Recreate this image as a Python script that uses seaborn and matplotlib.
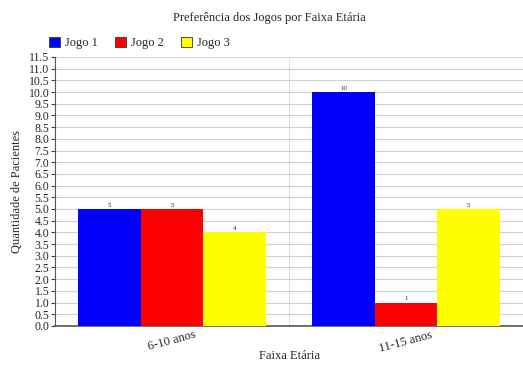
import numpy as np
import pandas as pd
import matplotlib.pyplot as plt
import seaborn as sns

faixas = ['6-10 anos', '11-15 anos']
jogos = ['Jogo 1', 'Jogo 2', 'Jogo 3']
jogo1 = [5, 10]
jogo2 = [5, 1]
jogo3 = [4, 5]
cores = ['#0000ff', '#ff0000', '#ffff00']

df = pd.DataFrame({
    'Faixa': faixas * 3,
    'Jogo': [j for j in jogos for _ in faixas],
    'Qtd': jogo1 + jogo2 + jogo3,
})

sns.set_style('white')
plt.rcParams['font.family'] = ['Liberation Serif', 'DejaVu Serif']

fig = plt.figure(figsize=(5.23, 3.65), dpi=100)
ax = fig.add_axes([0.105, 0.107, 0.895, 0.737])

sns.barplot(data=df, x='Faixa', y='Qtd', hue='Jogo', palette=cores,
            width=0.8, saturation=1, ax=ax, legend=False, zorder=3, linewidth=0)

ax.set_ylim(0, 11.5)
ax.set_xlim(-0.5, 1.5)
ax.set_yticks(np.arange(0, 11.51, 0.5))
ax.set_yticklabels([f'{v:.1f}' for v in np.arange(0, 11.51, 0.5)], fontsize=8.5)
ax.yaxis.grid(True, color='#d0d0d0', linewidth=0.8, zorder=0)
ax.axvline(0.5, color='#e0e0e0', linewidth=0.8, zorder=0)
ax.tick_params(axis='y', length=3, pad=1, left=True, color='#444444')
ax.tick_params(axis='x', length=0, pad=2)
for lbl in ax.get_xticklabels():
    lbl.set_rotation(15)
    lbl.set_fontsize(9)

for s in ['top', 'right']:
    ax.spines[s].set_visible(False)
ax.spines['left'].set_color('#555555')
ax.spines['bottom'].set_color('#555555')
ax.spines['bottom'].set_linewidth(1.2)

for cont in ax.containers:
    ax.bar_label(cont, fmt='%d', fontsize=5, padding=1,
                 bbox=dict(facecolor='white', edgecolor='none', pad=0.5))

ax.set_ylabel('Quantidade de Pacientes', fontsize=9, labelpad=4)
ax.set_xlabel('')
fig.text(0.553, 0.008, 'Faixa Etária', ha='center', va='bottom', fontsize=9)

fig.text(0.516, 0.95, 'Preferência dos Jogos por Faixa Etária',
         ha='center', va='center', fontsize=9)

handles = [plt.Rectangle((0, 0), 1, 1, facecolor=c, edgecolor='#333333', linewidth=0.6)
           for c in cores]
fig.legend(handles, jogos, loc='center left', bbox_to_anchor=(0.072, 0.882),
           ncol=3, frameon=False, fontsize=9, handlelength=0.9, handleheight=0.9,
           columnspacing=1.35, handletextpad=0.4)

fig.savefig('out.png', dpi=100)
